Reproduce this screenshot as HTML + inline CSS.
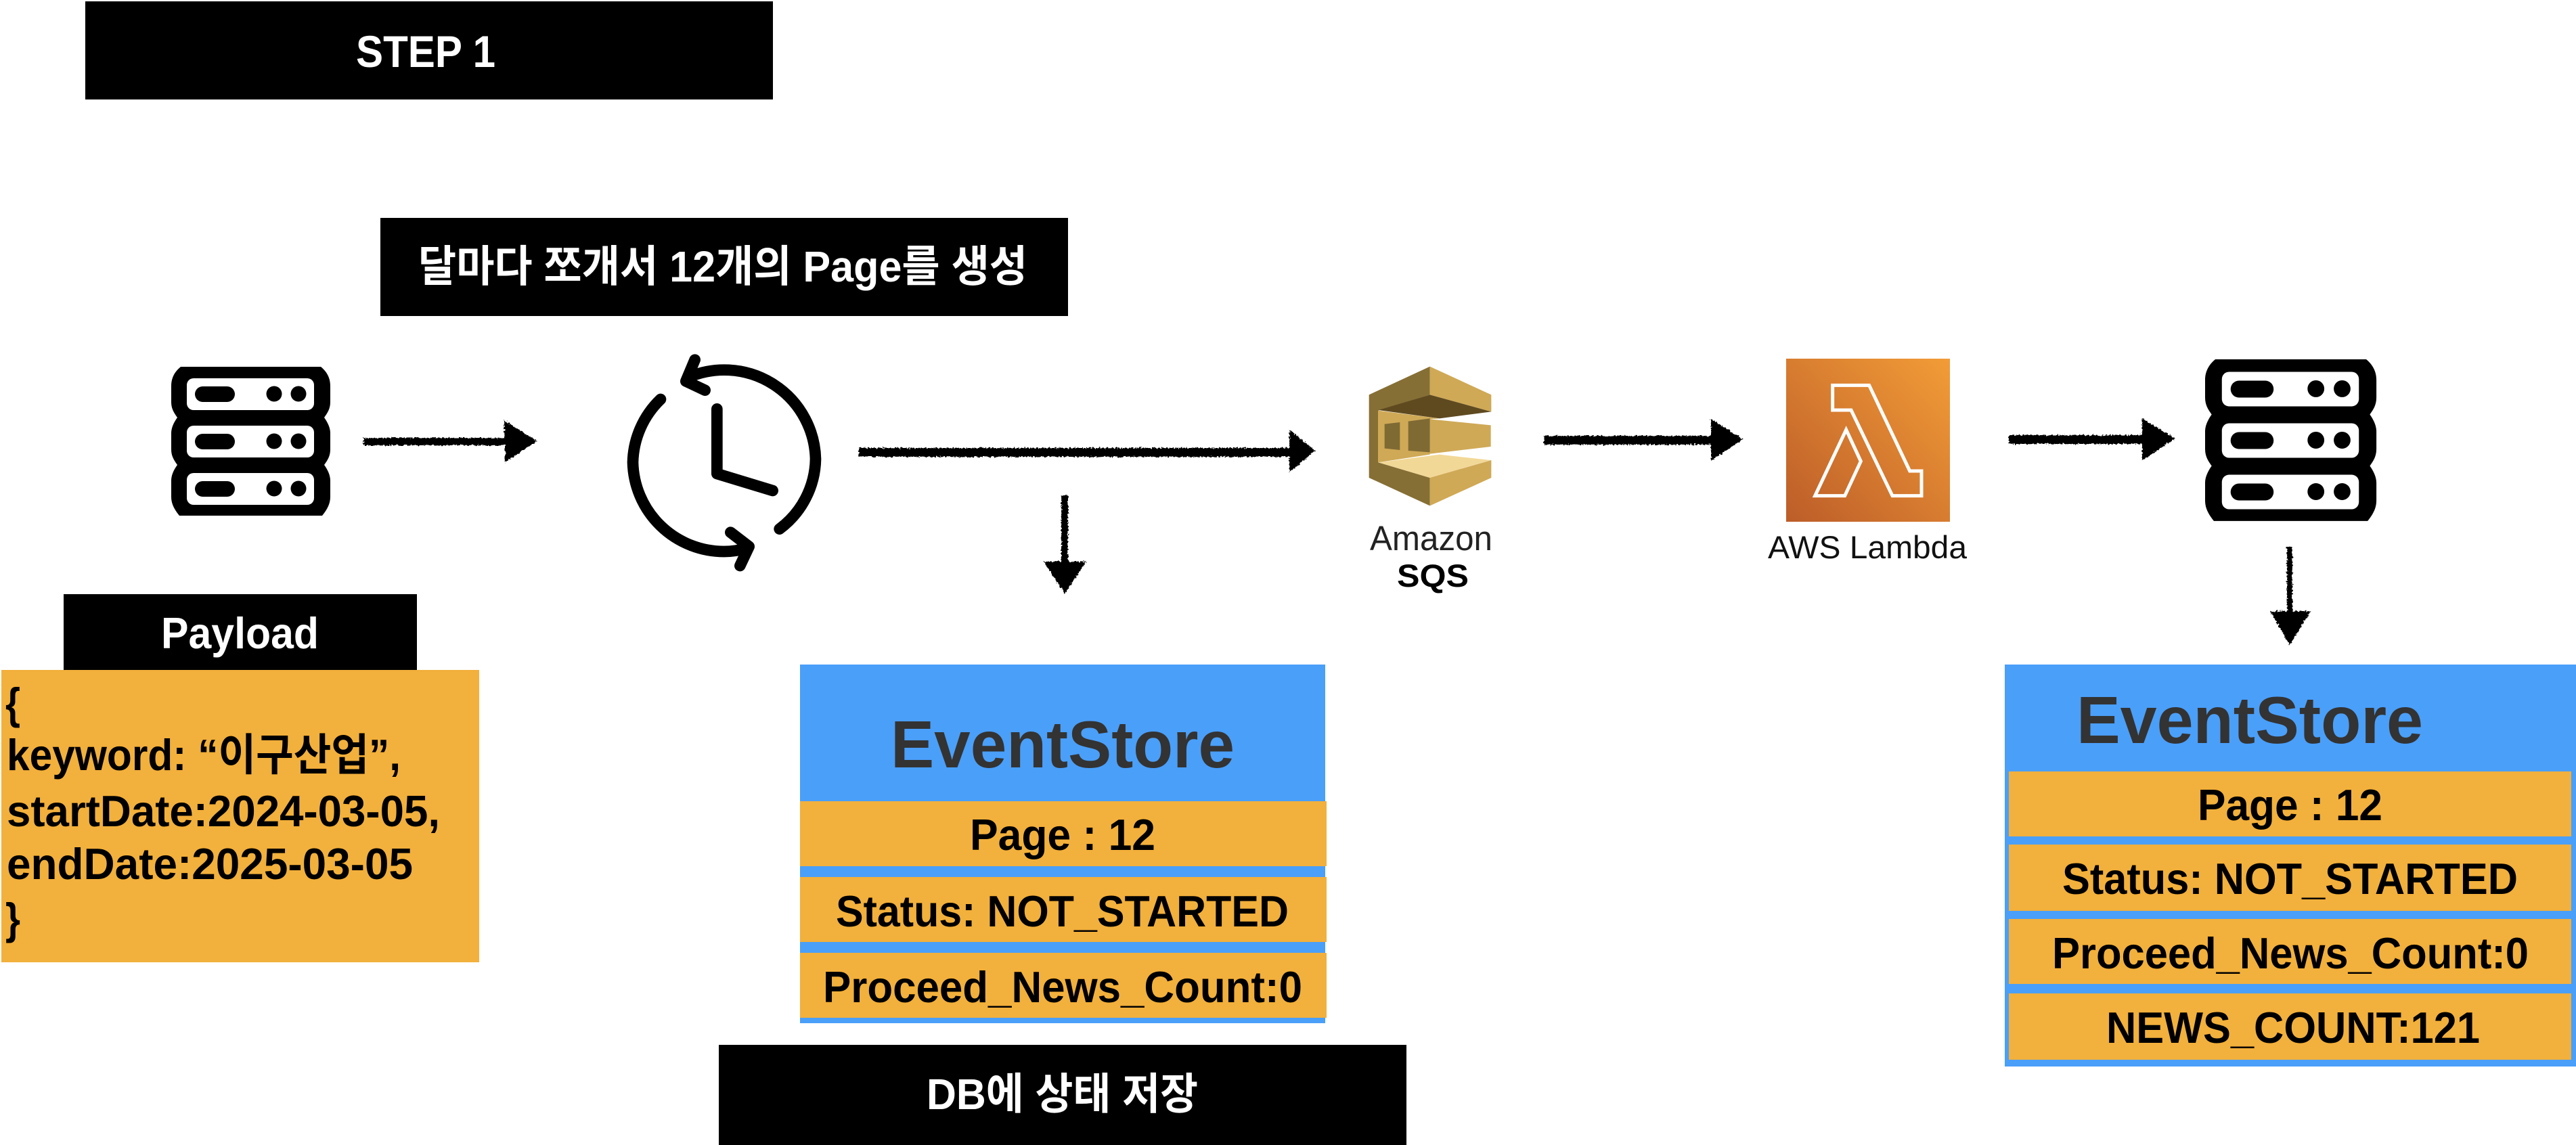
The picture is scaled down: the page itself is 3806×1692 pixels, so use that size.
<!DOCTYPE html>
<html lang="ko"><head><meta charset="utf-8"><title>STEP 1</title>
<style>html,body{margin:0;padding:0;background:#fff;width:3806px;height:1692px;overflow:hidden}
svg{display:block}
text{font-family:"Liberation Sans","Noto Sans CJK KR",sans-serif;font-weight:700}
.w{fill:#fff}.k{fill:#000}.t{fill:#333}.n{font-weight:400}</style></head><body>
<svg xmlns="http://www.w3.org/2000/svg" width="3806" height="1692" viewBox="0 0 3806 1692">
<defs>
<filter id="r" x="-10%" y="-30%" width="120%" height="160%"><feTurbulence type="fractalNoise" baseFrequency="0.35" numOctaves="2" seed="4"/><feDisplacementMap in="SourceGraphic" scale="6" xChannelSelector="R" yChannelSelector="G"/></filter>
<linearGradient id="lg" x1="0" y1="1" x2="1" y2="0"><stop offset="0" stop-color="#BC5D29"/><stop offset="1" stop-color="#F29C37"/></linearGradient>
<g id="srv">
<path d="M267 542H474C484 550 488 560 488 570V594C488 604 484 610 479 617C484 624 488 632 488 640V664C488 674 484 680 479 687C484 694 488 702 488 710V734C488 744 484 752 476 762H265C257 752 253 744 253 734V710C253 702 257 694 262 687C257 680 253 674 253 664V640C253 632 257 624 262 617C257 610 253 604 253 594V570C253 560 257 550 267 542Z" fill="#000"/>
<rect x="276" y="559" width="188" height="47" rx="10" fill="#fff"/>
<rect x="276" y="629" width="188" height="47" rx="10" fill="#fff"/>
<rect x="276" y="699" width="188" height="47" rx="10" fill="#fff"/>
<g fill="#000">
<rect x="288" y="571" width="59" height="23" rx="11.5"/><circle cx="405" cy="582" r="11.5"/><circle cx="441" cy="582" r="11.5"/>
<rect x="288" y="641" width="59" height="23" rx="11.5"/><circle cx="405" cy="652" r="11.5"/><circle cx="441" cy="652" r="11.5"/>
<rect x="288" y="711" width="59" height="23" rx="11.5"/><circle cx="405" cy="722" r="11.5"/><circle cx="441" cy="722" r="11.5"/>
</g></g>
</defs>
<rect width="3806" height="1692" fill="#fff"/>

<rect x="126" y="2" width="1016" height="145" fill="#000"/>
<text class="w" x="526" y="99" font-size="66" textLength="206" lengthAdjust="spacingAndGlyphs">STEP 1</text>

<rect x="562" y="322" width="1016" height="145" fill="#000"/>
<text class="w" x="618" y="416" font-size="64" textLength="900" lengthAdjust="spacingAndGlyphs">달마다 쪼개서 12개의 Page를 생성</text>

<use href="#srv"/>
<use href="#srv" transform="translate(3258 531) scale(1.077 1.086) translate(-253 -542)"/>

<!-- clock -->
<g transform="translate(900 510) scale(.33333)" fill="none" stroke="#000" stroke-width="50" stroke-linecap="round" stroke-linejoin="round">
<path d="M350 143A405 405 0 0 1 915 505A395 395 0 0 1 755 815"/>
<path d="M228 240A400 400 0 0 0 105 520A405 405 0 0 0 510 915Q560 915 610 900"/>
<path d="M380 65L340 160L425 200"/>
<path d="M538 830L620 893L580 978"/>
<path d="M478 283V570L725 645"/>
</g>

<!-- arrows -->
<g fill="#000" filter="url(#r)">
<path d="M537 647H745V621L793 652L746 683V658H537Z"/>
<path d="M1269 662H1905V635L1943 666L1905 698V675H1269Z"/>
<path d="M1568 732H1578V830H1605L1573 877L1542 830H1568Z"/>
<path d="M2281 644H2528V619L2575 649L2528 681V657H2281Z"/>
<path d="M2968 643H3165V618L3214 648L3165 680V656H2968Z"/>
<path d="M3379 808H3387V903H3414L3383 953L3354 903H3379Z"/>
</g>

<!-- SQS -->
<g transform="translate(1950 500) scale(.33333)">
<path d="M218 250L488 125V250L260 320V550L488 618V742L218 618Z" fill="#866F35"/>
<path d="M488 125L760 250V325L488 250Z" fill="#CFA956"/>
<path d="M260 318L488 250L760 325L530 355Z" fill="#5F4A20"/>
<path d="M258 320L530 355L488 358V515L258 550Z" fill="#CFA956"/>
<path d="M488 358L758 385V480L488 512Z" fill="#CFA956"/>
<path d="M287 380L355 372V495L287 488ZM392 368L488 355V505L392 498Z" fill="#7F6A34"/>
<path d="M260 550L530 515L758 540L488 618Z" fill="#F2D897"/>
<path d="M488 618L760 540V618L488 742Z" fill="#CFA956"/>
</g>
<text class="n" x="2024" y="813" font-size="51" fill="#222" textLength="181" lengthAdjust="spacingAndGlyphs">Amazon</text>
<text class="k" x="2064" y="867" font-size="47" textLength="106" lengthAdjust="spacingAndGlyphs">SQS</text>

<!-- Lambda -->
<rect x="2639" y="530" width="242" height="241" fill="url(#lg)"/>
<g transform="translate(2580 500) scale(.33333)" fill="none" stroke="#fff" stroke-width="15">
<path d="M383 208H545L725 588H777V698H648L465 318H383Z"/>
<path d="M443 405L508 545L437 698H305Z"/>
</g>
<text class="n" x="2612" y="825" font-size="47" fill="#111" textLength="294" lengthAdjust="spacingAndGlyphs">AWS Lambda</text>

<!-- Payload -->
<rect x="94" y="878" width="522" height="112" fill="#000"/>
<text class="w" x="238" y="958" font-size="65" textLength="233" lengthAdjust="spacingAndGlyphs">Payload</text>
<rect x="2" y="990" width="706" height="432" fill="#F2B03C"/>
<g class="k">
<text x="8" y="1062" font-size="65" textLength="22" lengthAdjust="spacingAndGlyphs">{</text>
<text x="10" y="1138" font-size="65" textLength="582" lengthAdjust="spacingAndGlyphs">keyword: “이구산업”,</text>
<text x="10" y="1221" font-size="65" textLength="640" lengthAdjust="spacingAndGlyphs">startDate:2024-03-05,</text>
<text x="10" y="1299" font-size="65" textLength="600" lengthAdjust="spacingAndGlyphs">endDate:2025-03-05</text>
<text x="8" y="1380" font-size="65" textLength="22" lengthAdjust="spacingAndGlyphs">}</text>
</g>

<!-- EventStore left -->
<rect x="1182" y="982" width="776" height="530" fill="#4A9FF9"/>
<rect x="1182" y="1184" width="778" height="96" fill="#F2B03C"/>
<rect x="1182" y="1296" width="778" height="96" fill="#F2B03C"/>
<rect x="1182" y="1408" width="778" height="96" fill="#F2B03C"/>
<text class="t" x="1316" y="1134" font-size="98" textLength="508" lengthAdjust="spacingAndGlyphs">EventStore</text>
<text class="k" x="1433" y="1256" font-size="65" textLength="274" lengthAdjust="spacingAndGlyphs">Page : 12</text>
<text class="k" x="1235" y="1369" font-size="65" textLength="669" lengthAdjust="spacingAndGlyphs">Status: NOT_STARTED</text>
<text class="k" x="1216" y="1481" font-size="65" textLength="708" lengthAdjust="spacingAndGlyphs">Proceed_News_Count:0</text>

<rect x="1062" y="1544" width="1016" height="148" fill="#000"/>
<text class="w" x="1369" y="1639" font-size="64" textLength="401" lengthAdjust="spacingAndGlyphs">DB에 상태 저장</text>

<!-- EventStore right -->
<rect x="2962" y="982" width="844" height="594" fill="#4A9FF9"/>
<rect x="2968" y="1140" width="831" height="96" fill="#F2B03C"/>
<rect x="2968" y="1248" width="831" height="98" fill="#F2B03C"/>
<rect x="2968" y="1358" width="831" height="96" fill="#F2B03C"/>
<rect x="2968" y="1468" width="831" height="98" fill="#F2B03C"/>
<text class="t" x="3068" y="1098" font-size="98" textLength="512" lengthAdjust="spacingAndGlyphs">EventStore</text>
<text class="k" x="3247" y="1212" font-size="65" textLength="273" lengthAdjust="spacingAndGlyphs">Page : 12</text>
<text class="k" x="3047" y="1321" font-size="65" textLength="673" lengthAdjust="spacingAndGlyphs">Status: NOT_STARTED</text>
<text class="k" x="3032" y="1431" font-size="65" textLength="704" lengthAdjust="spacingAndGlyphs">Proceed_News_Count:0</text>
<text class="k" x="3112" y="1541" font-size="65" textLength="552" lengthAdjust="spacingAndGlyphs">NEWS_COUNT:121</text>
</svg>
</body></html>
